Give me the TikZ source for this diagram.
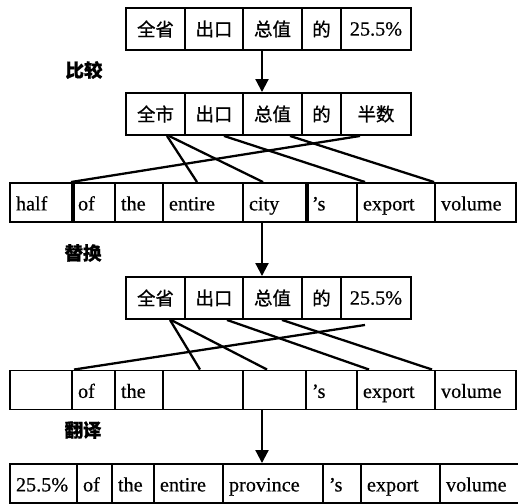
\documentclass[tikz,border=0pt]{standalone}
\usepackage{fontspec}
\setmainfont{Liberation Serif}[FakeBold=0.5]
\newfontfamily\cjk{Noto Sans CJK SC}[FakeBold=0.8]
\usepackage{tikz}
\usetikzlibrary{arrows.meta}

\begin{document}
\begin{tikzpicture}[
  zcell/.style={draw, line width=1.1pt, minimum height=0.84cm, inner sep=0pt, font=\cjk\fontsize{10.5}{12}\selectfont},
  ecell/.style={draw, line width=1.1pt, minimum height=0.78cm, inner xsep=0.12cm, inner ysep=0pt, text width=#1, align=left, text height=9.5pt, text depth=0.5pt, font=\fontsize{11.5}{13}\selectfont},
  step label/.style={font=\cjk\bfseries\fontsize{10.5}{12}\selectfont},
  link/.style={line width=1.3pt},
  down/.style={-{Triangle[length=0.26cm,width=0.26cm]}, line width=1.2pt}]
\useasboundingbox (0cm,0cm) rectangle (10.36cm,-10.08cm);
\coordinate (ax) at (5.24cm,0cm);

% source sentence
\node[zcell, minimum width=1.18cm] (r1c1) at (3.11cm,-0.58cm) {全省};
\node[zcell, minimum width=1.16cm] (r1c2) at (4.28cm,-0.58cm) {出口};
\node[zcell, minimum width=1.18cm] (r1c3) at (5.45cm,-0.58cm) {总值};
\node[zcell, minimum width=0.78cm] (r1c4) at (6.43cm,-0.58cm) {的};
\node[zcell, minimum width=1.40cm, font=\fontsize{11.5}{13}\selectfont] (r1c5) at (7.52cm,-0.58cm) {25.5\%};
\node[step label] (cmp) at (1.68cm,-1.40cm) {比较};

% matched example
\node[zcell, minimum width=1.18cm] (r2c1) at (3.11cm,-2.28cm) {全市};
\node[zcell, minimum width=1.16cm] (r2c2) at (4.28cm,-2.28cm) {出口};
\node[zcell, minimum width=1.18cm] (r2c3) at (5.45cm,-2.28cm) {总值};
\node[zcell, minimum width=0.78cm] (r2c4) at (6.43cm,-2.28cm) {的};
\node[zcell, minimum width=1.40cm] (r2c5) at (7.52cm,-2.28cm) {半数};
\draw[down] (r1c3.south -| ax) -- (r2c3.north -| ax);

% its translation
\node[ecell=1.00cm] (r3c1) at (0.82cm,-4.05cm) {half};
\node[ecell=0.62cm] (r3c2) at (1.87cm,-4.05cm) {of};
\node[ecell=0.72cm] (r3c3) at (2.78cm,-4.05cm) {the};
\node[ecell=1.36cm] (r3c4) at (4.06cm,-4.05cm) {entire};
\node[ecell=1.02cm] (r3c5) at (5.49cm,-4.05cm) {city};
\node[ecell=0.78cm] (r3c6) at (6.63cm,-4.05cm) {'s};
\node[ecell=1.32cm] (r3c7) at (7.92cm,-4.05cm) {export};
\node[ecell=1.38cm] (r3c8) at (9.51cm,-4.05cm) {volume};
\draw[line width=2.2pt] (r3c1.north east) -- (r3c1.south east);
\draw[line width=2.2pt] (r3c5.north east) -- (r3c5.south east);
\draw[link] ([xshift=0.23cm]r2c1.south) -- ([xshift=-0.12cm]r3c4.north);
\draw[link] ([xshift=0.27cm]r2c1.south) -- ([xshift=-0.23cm]r3c5.north);
\draw[link] ([xshift=0.20cm]r2c2.south) -- ([xshift=0.18cm]r3c7.north west);
\draw[link] ([xshift=0.35cm]r2c3.south) -- (r3c8.north west);
\draw[link] ([xshift=-0.32cm]r2c5.south) -- (r3c2.north west);

% substitution
\node[step label] (sub) at (1.66cm,-5.06cm) {替换};
\node[zcell, minimum width=1.18cm] (r4c1) at (3.11cm,-5.96cm) {全省};
\node[zcell, minimum width=1.16cm] (r4c2) at (4.28cm,-5.96cm) {出口};
\node[zcell, minimum width=1.18cm] (r4c3) at (5.45cm,-5.96cm) {总值};
\node[zcell, minimum width=0.78cm] (r4c4) at (6.43cm,-5.96cm) {的};
\node[zcell, minimum width=1.40cm, font=\fontsize{11.5}{13}\selectfont] (r4c5) at (7.52cm,-5.96cm) {25.5\%};
\draw[down] (r3c5.south -| ax) -- (r4c3.north -| ax);

% frame with gaps
\node[ecell=1.00cm] (r5c1) at (0.82cm,-7.80cm) {};
\node[ecell=0.62cm] (r5c2) at (1.87cm,-7.80cm) {of};
\node[ecell=0.72cm] (r5c3) at (2.78cm,-7.80cm) {the};
\node[ecell=1.36cm] (r5c4) at (4.06cm,-7.80cm) {};
\node[ecell=1.02cm] (r5c5) at (5.49cm,-7.80cm) {};
\node[ecell=0.78cm] (r5c6) at (6.63cm,-7.80cm) {'s};
\node[ecell=1.32cm] (r5c7) at (7.92cm,-7.80cm) {export};
\node[ecell=1.38cm] (r5c8) at (9.51cm,-7.80cm) {volume};
\draw[link] ([xshift=0.29cm]r4c1.south) -- ([xshift=-0.06cm]r5c4.north);
\draw[link] ([xshift=0.31cm]r4c1.south) -- ([xshift=-0.15cm]r5c5.north);
\draw[link] ([xshift=0.26cm]r4c2.south) -- ([xshift=0.26cm]r5c7.north west);
\draw[link] ([xshift=0.19cm]r4c3.south) -- ([xshift=-0.04cm]r5c8.north west);
\draw[link] ([xshift=-0.22cm,yshift=-0.1cm]r4c5.south) -- ([xshift=0.06cm]r5c2.north west);

% result
\node[step label] (trans) at (1.66cm,-8.60cm) {翻译};
\node[ecell=1.10cm] (r6c1) at (0.87cm,-9.67cm) {25.5\%};
\node[ecell=0.46cm] (r6c2) at (1.89cm,-9.67cm) {of};
\node[ecell=0.60cm] (r6c3) at (2.66cm,-9.67cm) {the};
\node[ecell=1.14cm] (r6c4) at (3.77cm,-9.67cm) {entire};
\node[ecell=1.76cm] (r6c5) at (5.46cm,-9.67cm) {province};
\node[ecell=0.52cm] (r6c6) at (6.84cm,-9.67cm) {'s};
\node[ecell=1.34cm] (r6c7) at (8.01cm,-9.67cm) {export};
\node[ecell=1.36cm] (r6c8) at (9.60cm,-9.67cm) {volume};
\draw[down] (r5c5.south -| ax) -- (r6c5.north -| ax);
\end{tikzpicture}
\end{document}
